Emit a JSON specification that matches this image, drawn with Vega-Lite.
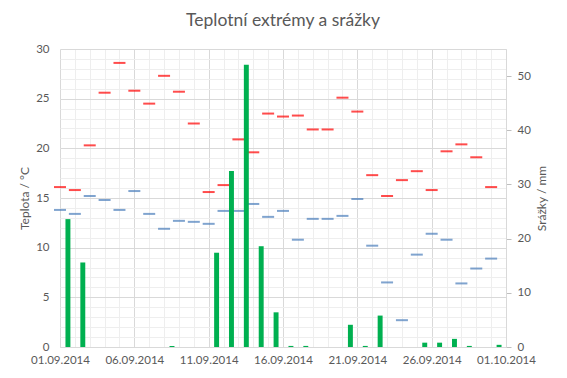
{
  "$schema": "https://vega.github.io/schema/vega-lite/v6.json",
  "width": 446,
  "height": 298,
  "autosize": {"type": "none"},
  "padding": {"left": 60, "top": 49, "right": 61, "bottom": 31},
  "background": "white",
  "title": {"text": "Teplotní extrémy a srážky", "font": "Lato", "fontSize": 17.5, "fontWeight": "normal", "color": "#595959", "anchor": "middle", "offset": 14},
  "config": {
    "view": {"stroke": null},
    "axis": {"labelFont": "Lato", "titleFont": "Lato", "labelColor": "#595959", "titleColor": "#595959", "labelFontSize": 11.5, "titleFontSize": 12, "titleFontWeight": "normal", "labelOverlap": false, "labelBound": false, "labelFlush": false}
  },
  "data": {
    "values": [
      {"date": "2014-09-01T00:00:00", "tmax": 16.1, "tmin": 13.8, "precip": 23.6},
      {"date": "2014-09-02T00:00:00", "tmax": 15.8, "tmin": 13.4, "precip": 15.6},
      {"date": "2014-09-03T00:00:00", "tmax": 20.3, "tmin": 15.2, "precip": 0},
      {"date": "2014-09-04T00:00:00", "tmax": 25.6, "tmin": 14.8, "precip": 0},
      {"date": "2014-09-05T00:00:00", "tmax": 28.6, "tmin": 13.8, "precip": 0},
      {"date": "2014-09-06T00:00:00", "tmax": 25.8, "tmin": 15.7, "precip": 0},
      {"date": "2014-09-07T00:00:00", "tmax": 24.5, "tmin": 13.4, "precip": 0},
      {"date": "2014-09-08T00:00:00", "tmax": 27.3, "tmin": 11.9, "precip": 0.2},
      {"date": "2014-09-09T00:00:00", "tmax": 25.7, "tmin": 12.7, "precip": 0},
      {"date": "2014-09-10T00:00:00", "tmax": 22.5, "tmin": 12.6, "precip": 0},
      {"date": "2014-09-11T00:00:00", "tmax": 15.6, "tmin": 12.4, "precip": 17.4},
      {"date": "2014-09-12T00:00:00", "tmax": 16.3, "tmin": 13.7, "precip": 32.5},
      {"date": "2014-09-13T00:00:00", "tmax": 20.9, "tmin": 13.7, "precip": 52.1},
      {"date": "2014-09-14T00:00:00", "tmax": 19.6, "tmin": 14.4, "precip": 18.6},
      {"date": "2014-09-15T00:00:00", "tmax": 23.5, "tmin": 13.1, "precip": 6.4},
      {"date": "2014-09-16T00:00:00", "tmax": 23.2, "tmin": 13.7, "precip": 0.2},
      {"date": "2014-09-17T00:00:00", "tmax": 23.3, "tmin": 10.8, "precip": 0.2},
      {"date": "2014-09-18T00:00:00", "tmax": 21.9, "tmin": 12.9, "precip": 0},
      {"date": "2014-09-19T00:00:00", "tmax": 21.9, "tmin": 12.9, "precip": 0},
      {"date": "2014-09-20T00:00:00", "tmax": 25.1, "tmin": 13.2, "precip": 4.1},
      {"date": "2014-09-21T00:00:00", "tmax": 23.7, "tmin": 14.9, "precip": 0.2},
      {"date": "2014-09-22T00:00:00", "tmax": 17.3, "tmin": 10.2, "precip": 5.8},
      {"date": "2014-09-23T00:00:00", "tmax": 15.2, "tmin": 6.5, "precip": 0},
      {"date": "2014-09-24T00:00:00", "tmax": 16.8, "tmin": 2.7, "precip": 0},
      {"date": "2014-09-25T00:00:00", "tmax": 17.7, "tmin": 9.3, "precip": 0.8},
      {"date": "2014-09-26T00:00:00", "tmax": 15.8, "tmin": 11.4, "precip": 0.8},
      {"date": "2014-09-27T00:00:00", "tmax": 19.7, "tmin": 10.8, "precip": 1.5},
      {"date": "2014-09-28T00:00:00", "tmax": 20.4, "tmin": 6.4, "precip": 0.2},
      {"date": "2014-09-29T00:00:00", "tmax": 19.1, "tmin": 7.9, "precip": 0},
      {"date": "2014-09-30T00:00:00", "tmax": 16.1, "tmin": 8.9, "precip": 0.4}
    ]
  },
  "layer": [
    {
      "mark": {"type": "tick", "opacity": 0},
      "encoding": {
        "x": {"field": "date", "type": "temporal",
          "scale": {"domain": [{"year": 2014, "month": 9, "date": 1}, {"year": 2014, "month": 10, "date": 1}]},
          "axis": {"orient": "bottom", "grid": true, "gridColor": "#eeeeee", "labels": false, "ticks": false, "tickSize": 0, "domain": false, "title": null,
            "values": [
              {"year": 2014, "month": 9, "date": 1}, {"year": 2014, "month": 9, "date": 2}, {"year": 2014, "month": 9, "date": 3}, {"year": 2014, "month": 9, "date": 4}, {"year": 2014, "month": 9, "date": 5},
              {"year": 2014, "month": 9, "date": 6}, {"year": 2014, "month": 9, "date": 7}, {"year": 2014, "month": 9, "date": 8}, {"year": 2014, "month": 9, "date": 9}, {"year": 2014, "month": 9, "date": 10},
              {"year": 2014, "month": 9, "date": 11}, {"year": 2014, "month": 9, "date": 12}, {"year": 2014, "month": 9, "date": 13}, {"year": 2014, "month": 9, "date": 14}, {"year": 2014, "month": 9, "date": 15},
              {"year": 2014, "month": 9, "date": 16}, {"year": 2014, "month": 9, "date": 17}, {"year": 2014, "month": 9, "date": 18}, {"year": 2014, "month": 9, "date": 19}, {"year": 2014, "month": 9, "date": 20},
              {"year": 2014, "month": 9, "date": 21}, {"year": 2014, "month": 9, "date": 22}, {"year": 2014, "month": 9, "date": 23}, {"year": 2014, "month": 9, "date": 24}, {"year": 2014, "month": 9, "date": 25},
              {"year": 2014, "month": 9, "date": 26}, {"year": 2014, "month": 9, "date": 27}, {"year": 2014, "month": 9, "date": 28}, {"year": 2014, "month": 9, "date": 29}, {"year": 2014, "month": 9, "date": 30},
              {"year": 2014, "month": 10, "date": 1}
            ]}},
        "y": {"field": "tmax", "type": "quantitative", "scale": {"domain": [0, 30]},
          "axis": {"orient": "left", "grid": true, "gridColor": "#eeeeee", "labels": false, "ticks": false, "tickSize": 0, "domain": false, "title": null,
            "values": [0,1,2,3,4,5,6,7,8,9,10,11,12,13,14,15,16,17,18,19,20,21,22,23,24,25,26,27,28,29,30]}}
      }
    },
    {
      "mark": {"type": "tick", "orient": "horizontal", "color": "#ff0000", "size": 12, "thickness": 2},
      "encoding": {
        "x": {"field": "date", "type": "temporal",
          "scale": {"domain": [{"year": 2014, "month": 9, "date": 1}, {"year": 2014, "month": 10, "date": 1}]},
          "axis": {"orient": "bottom", "grid": true, "gridColor": "#d9d9d9", "ticks": false, "tickSize": 0, "domainColor": "#d9d9d9", "labelPadding": 7, "title": null, "format": "%d.%m.%Y",
            "values": [
              {"year": 2014, "month": 9, "date": 1}, {"year": 2014, "month": 9, "date": 6}, {"year": 2014, "month": 9, "date": 11},
              {"year": 2014, "month": 9, "date": 16}, {"year": 2014, "month": 9, "date": 21}, {"year": 2014, "month": 9, "date": 26},
              {"year": 2014, "month": 10, "date": 1}
            ]}},
        "y": {"field": "tmax", "type": "quantitative", "scale": {"domain": [0, 30]},
          "axis": {"orient": "left", "grid": true, "gridColor": "#d9d9d9", "ticks": false, "tickSize": 0, "domain": false, "labelPadding": 11, "title": "Teplota / °C", "titlePadding": 4,
            "values": [0, 5, 10, 15, 20, 25, 30]}}
      }
    },
    {
      "mark": {"type": "tick", "orient": "horizontal", "color": "#4a7ebb", "size": 12, "thickness": 2},
      "encoding": {
        "x": {"field": "date", "type": "temporal",
          "scale": {"domain": [{"year": 2014, "month": 9, "date": 1}, {"year": 2014, "month": 10, "date": 1}]},
          "axis": null},
        "y": {"field": "tmin", "type": "quantitative", "scale": {"domain": [0, 30]}, "axis": null}
      }
    },
    {
      "mark": {"type": "bar", "color": "#00b050", "width": {"band": 0.4}},
      "encoding": {
        "x": {"field": "date", "type": "temporal", "timeUnit": "yearmonthdate",
          "scale": {"domain": [{"year": 2014, "month": 9, "date": 1}, {"year": 2014, "month": 10, "date": 1}]},
          "axis": null},
        "y": {"field": "precip", "type": "quantitative", "scale": {"domain": [0, 55]},
          "axis": {"orient": "right", "grid": false, "ticks": true, "tickSize": 5, "tickColor": "#bfbfbf", "domainColor": "#d9d9d9", "labelPadding": 6, "title": "Srážky / mm", "titleAngle": 270, "titleBaseline": "bottom", "titlePadding": 18,
            "values": [0, 10, 20, 30, 40, 50]}}
      }
    }
  ],
  "resolve": {"scale": {"y": "independent"}, "axis": {"x": "independent", "y": "independent"}}
}
